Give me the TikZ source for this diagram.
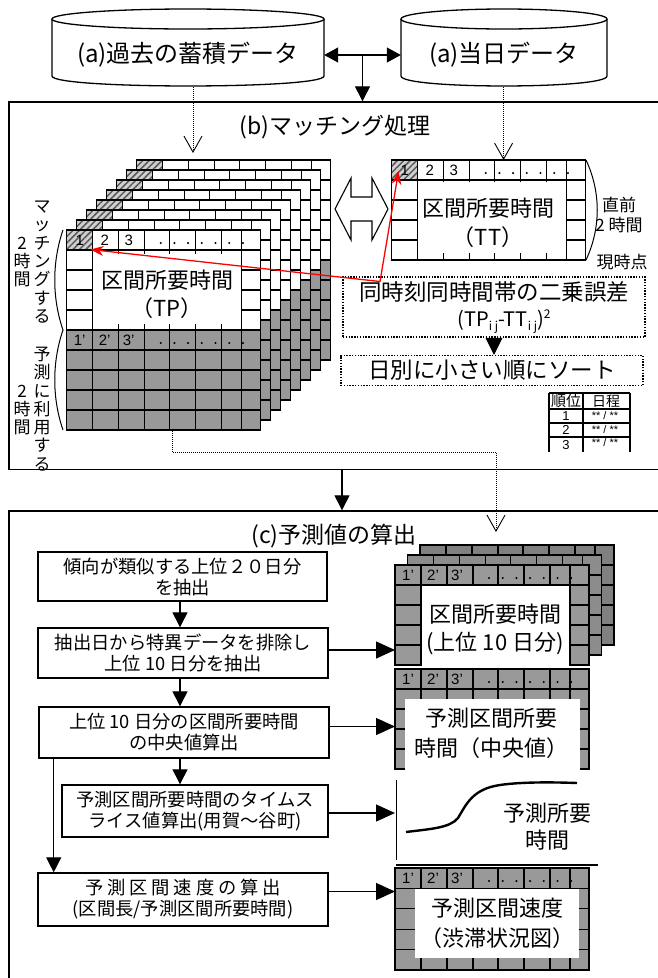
\documentclass[tikz,border=0pt]{standalone}
\usepackage{fontspec}
\setmainfont{Noto Sans CJK JP}
\newfontfamily\latinf{Liberation Sans}
\usetikzlibrary{arrows.meta,patterns.meta,calc}
\definecolor{cellgray}{HTML}{999999}
\definecolor{graytwo}{HTML}{8C8C8C}
\definecolor{graythree}{HTML}{808080}
\definecolor{hatchbg}{HTML}{D0D0D0}
\newcommand\myfs[2]{\fontsize{#1}{#2}\selectfont}
% sheet: x y nrows nwhite fillcolor rowheight
\newcommand\drawsheet[6]{%
 \begin{scope}[shift={(#1,#2)}]
  \fill[white] (0,0) rectangle (194,{#4*#6});
  \fill[#5] (0,{#4*#6}) rectangle (194,{#3*#6});
  \foreach \r in {0,...,#3} {\draw[gridline] (0,{\r*#6}) -- (194,{\r*#6});}
  \foreach \c in {0,26,52,78,103,129,155,175,194} {\draw[gridline] (\c,0) -- (\c,{#3*#6});}
  \draw[gridline] (0,0) rectangle (194,{#3*#6});
 \end{scope}}
\newcommand\hatchcell[2]{%
 \fill[hatchbg] (#1,#2) rectangle ++(26,20);
 \fill[pattern={Lines[angle=45,distance=4.5pt,line width=1.5pt]}, pattern color=black!65] (#1,#2) rectangle ++(26,20);
 \draw[gridline] (#1,#2) rectangle ++(26,20);}
% header: x y prefix l1 l2 l3
\newcommand\header[6]{%
 \node[hdr] (#3a) at ({#1+13},{#2+10}) {#4};
 \node[hdr] (#3b) at ({#1+38},{#2+10}) {#5};
 \node[hdr] (#3c) at ({#1+62},{#2+10}) {#6};
 \foreach \i in {0,...,6} {\fill ({#1+94+13.7*\i},{#2+13}) circle (1.15);}}
\begin{document}
\begin{tikzpicture}[x=1pt,y=-1pt,
 gridline/.style={line width=1.2pt},
 cyl/.style={line width=1.3pt},
 cyltext/.style={inner sep=0pt, minimum height=64pt, font=\myfs{24}{28}},
 bigbox/.style={draw, line width=1.4pt, inner sep=0pt},
 title/.style={inner sep=0pt, font=\myfs{23}{27}},
 dotcon/.style={line width=0.8pt, dash pattern=on 0.8pt off 1.2pt, -{Straight Barb[length=16pt,width=18pt,line width=0.9pt]}},
 arr/.style={line width=1.3pt, -{Triangle[length=15pt,width=15pt]}},
 harr/.style={line width=1.3pt, -{Triangle[length=19pt,width=17pt]}},
 pbox/.style={draw, line width=1.4pt, fill=white, align=center, inner sep=0pt, font=\myfs{18.3}{21}},
 dotbox/.style={draw, line width=1.4pt, dash pattern=on 1.4pt off 1.4pt, inner sep=0pt, align=center},
 lbl/.style={inner sep=0pt, align=center, font=\myfs{22}{28}},
 hdr/.style={inner sep=0pt, font=\latinf\myfs{15}{15}},
 vtext/.style={inner sep=0pt, align=center, font=\myfs{17}{18.3}},
 small/.style={inner sep=0pt, font=\myfs{17}{20}, align=center},
 tbl/.style={line width=1.3pt},
 redarr/.style={red, line width=1.3pt, {Stealth[length=13pt,width=10pt]}-{Stealth[length=13pt,width=10pt]}},
]
\useasboundingbox (0,0) rectangle (658,978);
\clip (0,0) rectangle (658,978);
\fill[white] (0,0) rectangle (658,978);

% ---------- cylinders ----------
\draw[cyl] (52,19) -- (52,76) .. controls (52,89.3) and (324,89.3) .. (324,76) -- (324,19);
\draw[cyl] (188,19) ellipse [x radius=136, y radius=10];
\draw[cyl] (401,19) -- (401,76) .. controls (401,89.3) and (607,89.3) .. (607,76) -- (607,19);
\draw[cyl] (504,19) ellipse [x radius=103, y radius=10];
\node[cyltext, minimum width=272pt] (cylA) at (188,55) {(a)過去の蓄積データ};
\node[cyltext, minimum width=206pt] (cylB) at (504,55) {(a)当日データ};

% ---------- big boxes ----------
\node[bigbox, minimum width=661pt, minimum height=367.5pt] (boxb) at (339.5,285.75) {};
\node[bigbox, minimum width=661pt, minimum height=498pt] (boxc) at (339.5,760) {};

\draw[line width=1.3pt, {Triangle[length=14pt,width=15pt]}-{Triangle[length=14pt,width=15pt]}] (cylA.east) -- (cylB.west);
\coordinate (mid) at ($(cylA.east)!0.5!(cylB.west)$);
\draw[arr] (mid) -- (mid |- boxb.north);
\coordinate (bx) at (342,0);
\draw[arr] (boxb.south -| bx) -- (boxc.north -| bx);

\node[title] (tb) at (335,127) {(b)マッチング処理};
\node[title] (tc) at (334,536) {(c)予測値の算出};

% ---------- TP stack ----------
\foreach \k in {7,6,...,0} {%
 \drawsheet{66.7+10*\k}{230-10*\k}{10}{5}{cellgray}{20}
 \hatchcell{66.7+10*\k}{230-10*\k}
}
\header{66.7}{230}{tph}{1}{2}{3}
\header{66.7}{330}{tpg}{1’}{2’}{3’}
\fill[white] (93.3,253.6) rectangle (241.1,324.4);
\node[lbl] (tp) at (167,294) {区間所要時間\\（TP）};

% braces left
\draw[line width=1pt] (63,230) .. controls (52,262) and (52,298) .. (63,330) .. controls (52,362) and (52,398) .. (63,430);
\node[vtext] (v1) at (42,262) {マ\\ッ\\チ\\ン\\グ\\す\\る};
\node[vtext] (v2) at (22,262) {2\\時\\間};
\node[vtext] (v3) at (42,409) {予\\測\\に\\利\\用\\す\\る};
\node[vtext] (v4) at (22,410) {2\\時\\間};

% ---------- TT ----------
\drawsheet{391.7}{160}{5}{5}{white}{20}
\hatchcell{391.7}{160}
\header{391.7}{160}{tth}{1}{2}{3}
\fill[white] (418.1,181.6) rectangle (566.2,253);
\node[lbl, font=\myfs{22}{29}] (tt) at (488,223) {区間所要時間\\（TT）};
\draw[line width=1pt] (586,160) .. controls (601,192) and (601,228) .. (586,260);
\node[small] (prev) at (619,215) {直前\\2 時間};
\node[small] (now) at (622,262) {現時点};

% double block arrow
\draw[line width=1.1pt, fill=white] (335,209) -- (351,178) -- (351,197) -- (372,197) -- (372,178) -- (388,209) -- (372,240) -- (372,221) -- (351,221) -- (351,240) -- cycle;

% dotted connectors from cylinders
\coordinate (tpTop) at (193,153);
\coordinate (ttTop) at (503.6,160);
\draw[dotcon] (cylA.south -| tpTop) -- (tpTop);
\draw[dotcon] (cylB.south -| ttTop) -- (ttTop);

% error box and sort box
\node[dotbox, minimum width=302pt, minimum height=60pt] (err) at (494,307) {};
\node[inner sep=0pt, font=\myfs{22.5}{27}] (errt) at (494,292) {同時刻同時間帯の二乗誤差};
\node[inner sep=0pt, font=\myfs{20}{24}] (errf) at (504,322) {(TP\raisebox{-4pt}{\myfs{12}{12}i j}-TT\raisebox{-4pt}{\myfs{12}{12}i j})\raisebox{8pt}{\myfs{12}{12}2}};
\node[dotbox, minimum width=302pt, minimum height=30pt, font=\myfs{22.5}{27}] (sort) at (492,370.5) {日別に小さい順にソート};
\draw[-{Triangle[length=17pt,width=17pt]}, line width=0.5pt] (err.south) -- (err.south |- sort.north);

% red connector
\coordinate (tpc) at (90.5,249.5);
\coordinate (rj) at (380,281.5);
\coordinate (ttc) at (398.5,171.5);
\draw[redarr] (tpc) -- (rj) -- (ttc);

% table
\draw[tbl] (549,393) -- (630,393) (549,409) -- (630,409) (549,423) -- (630,423) (549,437) -- (630,437);
\draw[tbl] (549,393) -- (549,452) (583,393) -- (583,452) (630,393) -- (630,452);
\node[inner sep=0pt, font=\myfs{15}{15}] (th1) at (566,401) {順位};
\node[inner sep=0pt, font=\myfs{14}{14}] (th2) at (606,401) {日程};
\node[inner sep=0pt, font=\latinf\myfs{13}{13}] (tr1) at (566,416) {1};
\node[inner sep=0pt, font=\latinf\myfs{13}{13}] (tr2) at (566,430) {2};
\node[inner sep=0pt, font=\latinf\myfs{13}{13}] (tr3) at (566,445) {3};
\node[inner sep=0pt, font=\latinf\myfs{11}{11}] (td1) at (605,416) {** / **};
\node[inner sep=0pt, font=\latinf\myfs{11}{11}] (td2) at (605,430) {** / **};
\node[inner sep=0pt, font=\latinf\myfs{11}{11}] (td3) at (605,443) {** / **};

% dotted connector to (c)
\coordinate (tpBot) at (172,431);
\coordinate (bend) at (496,452);
\coordinate (cTop) at (496,532);
\draw[dotcon] (tpBot) |- (bend) -- (cTop);

% ---------- (c) right side graphics ----------
\drawsheet{420}{545}{5}{0}{graythree}{20}
\drawsheet{407.5}{555}{5}{0}{graytwo}{20}
\drawsheet{395}{565}{5}{0}{cellgray}{20}
\header{395}{565}{hs}{1’}{2’}{3’}
\fill[white] (421.6,586) rectangle (569.4,666);
\node[lbl] (s10) at (495,629) {区間所要時間\\(上位 10 日分)};

\drawsheet{395}{669}{5}{0}{cellgray}{20}
\header{395}{669}{hm}{1’}{2’}{3’}
\fill[white] (405,699) rectangle (580,770);
\node[lbl, font=\myfs{22}{30}] (med) at (491,733) {予測区間所要\\時間（中央値）};

\draw[line width=1pt] (396.6,780) -- (396.6,860);
\draw[line width=1.6pt] (396,865) -- (598,865);
\draw[line width=2.4pt] (406,832) .. controls (430,829) and (450,828) .. (458,818) .. controls (466,805) and (472,789) .. (500,785) .. controls (520,782) and (550,782) .. (577,783);
\node[lbl, font=\myfs{22}{27}] (gl) at (547,826.5) {予測所要\\時間};

\drawsheet{395}{868}{5}{0}{cellgray}{20.4}
\header{395}{868}{hv}{1’}{2’}{3’}
\fill[white] (415,888.5) rectangle (579,958);
\node[lbl, font=\myfs{22}{30}] (spd) at (497,923) {予測区間速度\\（渋滞状況図）};

% ---------- (c) flow boxes ----------
\node[pbox, minimum width=289pt, minimum height=49pt] (c1) at (182.5,576.5) {傾向が類似する上位２０日分\\を抽出};
\node[pbox, minimum width=290pt, minimum height=50pt] (c2) at (183,653) {抽出日から特異データを排除し\\上位 10 日分を抽出};
\node[pbox, minimum width=290pt, minimum height=51pt] (c3) at (184,732.5) {上位 10 日分の区間所要時間\\の中央値算出};
\node[pbox, minimum width=266pt, minimum height=52pt] (c4) at (195,811) {予測区間所要時間のタイムス\\ライス値算出(用賀～谷町)};
\node[pbox, minimum width=290pt, minimum height=53pt] (c5) at (183,899.5) {\makebox[196pt]{予\hfill 測\hfill 区\hfill 間\hfill 速\hfill 度\hfill の\hfill 算\hfill 出}\\(区間長/予測区間所要時間)};

\coordinate (ax) at (180,0);
\coordinate (lx) at (53.7,0);
\coordinate (rx) at (395,0);
\draw[arr] (c1.south -| ax) -- (c2.north -| ax);
\draw[arr] (c2.south -| ax) -- (c3.north -| ax);
\draw[arr] (c3.south -| ax) -- (c4.north -| ax);
\draw[arr] (c3.south -| lx) -- (c5.north -| lx);
\draw[harr] ([yshift=3pt]c2.east) -- ([yshift=3pt]c2.east -| rx);
\draw[harr] ([yshift=6pt]c3.east) -- ([yshift=6pt]c3.east -| rx);
\draw[harr] ([yshift=-2pt]c4.east) -- ([yshift=-2pt]c4.east -| rx);
\draw[harr] ([yshift=8pt]c5.east) -- ([yshift=8pt]c5.east -| rx);
\end{tikzpicture}
\end{document}
